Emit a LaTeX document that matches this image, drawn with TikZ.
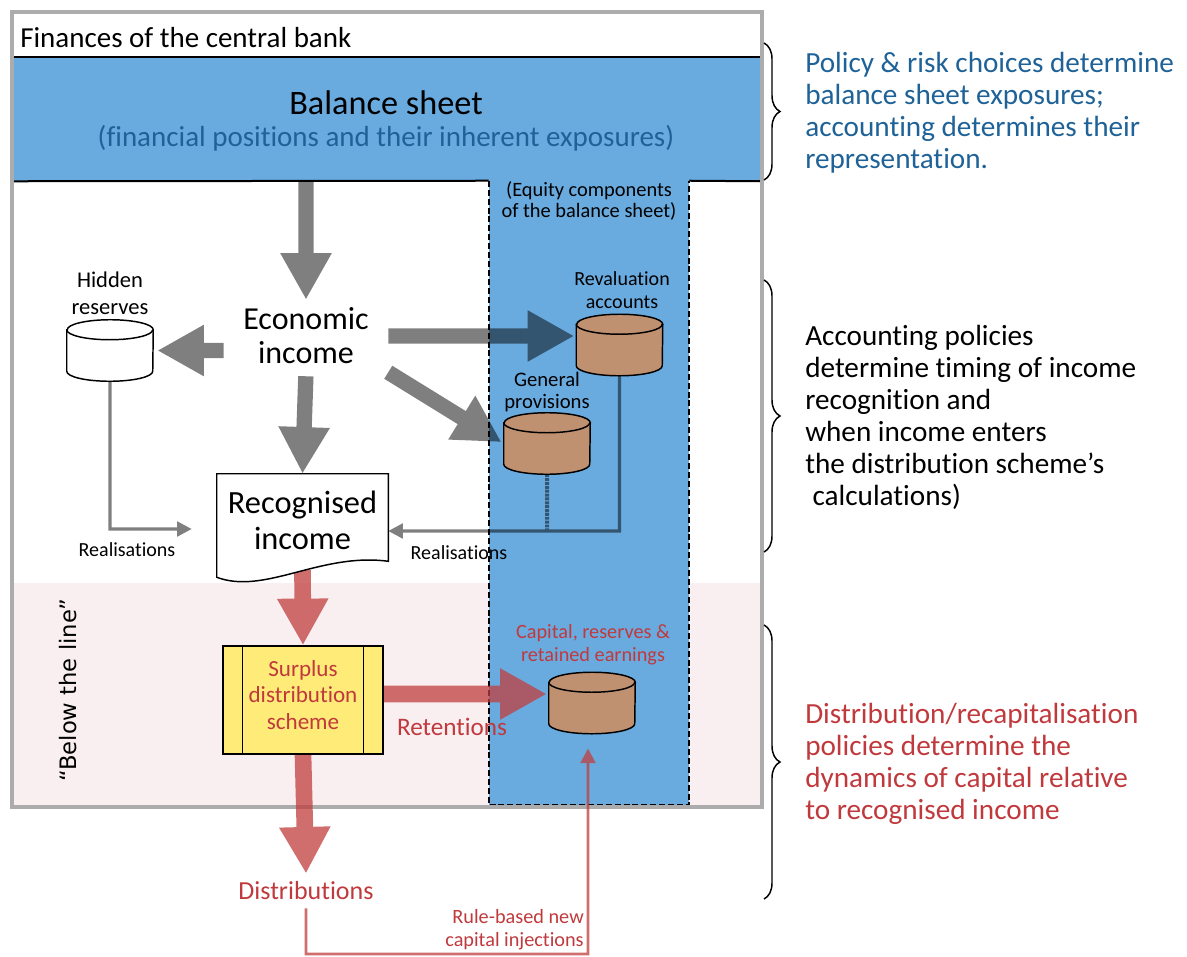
\documentclass[tikz,border=0pt]{standalone}
\usepackage{fontspec}
\setmainfont{Carlito}[Ligatures=NoCommon]
\newfontfamily\widefont{DejaVu Sans}
\usetikzlibrary{arrows.meta,calc,decorations.pathreplacing}

\definecolor{sheetblue}{RGB}{106,171,223}
\definecolor{sheettext}{RGB}{30,98,152}
\definecolor{schemered}{RGB}{192,57,60}
\definecolor{flowred}{RGB}{192,62,62}
\definecolor{barrel}{RGB}{191,145,112}
\definecolor{schemeyellow}{RGB}{255,235,120}
\definecolor{belowpink}{RGB}{249,239,241}
\definecolor{framegray}{RGB}{172,172,172}

\pgfdeclarelayer{back}
\pgfdeclarelayer{flow}
\pgfdeclarelayer{outline}
\pgfsetlayers{back,flow,outline,main}

% drum outline round a named node
\newcommand\drum[2]{%
  \draw[fill=#2,line width=1.1pt] ($(#1.north west)+(0,10)$) -- ($(#1.south west)+(0,-10)$)
    arc[start angle=180,end angle=360,x radius=32.25pt,y radius=7.5pt]
    -- ($(#1.north east)+(0,10)$)
    arc[start angle=0,end angle=180,x radius=32.25pt,y radius=7.5pt] -- cycle;
  \draw[line width=1.1pt] ($(#1.north west)+(0,10)$)
    arc[start angle=180,end angle=360,x radius=32.25pt,y radius=7.5pt];}

\begin{document}
\begin{tikzpicture}[x=0.75pt,y=-0.75pt,
  reserve/.style={minimum width=64.5pt,minimum height=45.75pt,inner sep=0pt},
  fatgray/.style={line width=11.5pt,draw=black,-{Triangle[length=35pt,width=36pt]}},
  fatred/.style={line width=12.5pt,draw=flowred,-{Triangle[length=35pt,width=36pt]}},
  thingray/.style={line width=2.4pt,draw=black,-{Triangle[length=11pt,width=11pt]}},
  thinred/.style={line width=2.2pt,draw=flowred,-{Triangle[length=11pt,width=11pt]}}]
  \useasboundingbox (0,0) rectangle (1187,956);

  \begin{pgfonlayer}{back}
    \fill[belowpink] (12,583) rectangle (762,807);
    \node (band)  at (387,119) [fill=sheetblue,minimum width=562.5pt,minimum height=93pt,inner sep=0pt] {};
    \node (eqcol) at (589,493) [fill=sheetblue,minimum width=150pt,minimum height=468pt,inner sep=0pt] {};
    \draw[dash pattern=on 4.5pt off 2.2pt,line width=1.2pt] (eqcol.north west) -- (eqcol.south west)
      -- (eqcol.south east) -- (eqcol.north east);
    \draw[line width=1.5pt] (band.north west) -- (band.north east);
    \draw[line width=1.5pt] (band.south west) -- (eqcol.north west);
    \draw[line width=1.5pt] (eqcol.north east) -- (band.south east);
    \draw[framegray,line width=3pt] (12,12) rectangle (762,807);
  \end{pgfonlayer}

  \node (title)    at (20,38)     [anchor=west,inner sep=0pt,font=\fontsize{21.75}{26}\selectfont] {Finances of the central bank};
  \node (sheet)    at (386,103)   [font=\fontsize{25.7}{30}\selectfont] {Balance sheet};
  \node (sheetsub) at (386,138)   [text=sheettext,font=\fontsize{21.75}{26}\selectfont] {(financial positions and their inherent exposures)};
  \node (eqlabel)  at (589,201)   [align=center,font=\fontsize{15.3}{16}\selectfont] {(Equity components\\of the balance sheet)};

  \node (hidlabel) at (110,293)   [align=center,font=\fontsize{16.9}{20}\selectfont] {Hidden\\reserves};
  \node (hid)      at (110,350.5) [reserve] {};
  \drum{hid}{white}
  \node (eco)      at (306,336)   [minimum width=123pt,minimum height=54pt,align=center,
                                   font=\fontsize{24}{25.5}\selectfont] {Economic\\income};
  \node (revlabel) at (622,290)   [align=center,font=\fontsize{15}{17}\selectfont] {Revaluation\\accounts};
  \node (rev)      at (619.5,345) [reserve] {};
  \drum{rev}{barrel}
  \node (gplabel)  at (547,392)   [align=center,font=\fontsize{15.5}{16}\selectfont] {General\\provisions};
  \node (gp)       at (547,443.5) [reserve] {};
  \drum{gp}{barrel}
  \node (doc)      at (302.5,520) [minimum width=128.25pt,minimum height=69pt,align=center,
                                   font=\fontsize{24.3}{27}\selectfont] {Recognised\\income};
  \node (realleft)  at (127,550)  [font=\fontsize{15}{18}\selectfont] {Realisations};
  \node (realright) at (459,553)  [font=\fontsize{15}{18}\selectfont] {Realisations};

  \node (below)    at (68,690)    [rotate=90,font=\widefont\fontsize{17}{20}\selectfont] {“Below the line”};
  \node (sds)      at (303,700)   [draw,line width=1.1pt,fill=schemeyellow,minimum width=120pt,minimum height=81pt] {};
  \draw[line width=1.1pt] ($(sds.north west)+(20,0)$) -- ($(sds.south west)+(20,0)$);
  \draw[line width=1.1pt] ($(sds.north east)+(-20,0)$) -- ($(sds.south east)+(-20,0)$);
  \node (sdslabel) at (303,695)   [align=center,text=schemered,font=\fontsize{17.3}{20}\selectfont] {Surplus\\distribution\\scheme};
  \node (caplabel) at (593,645)   [align=center,text=schemered,font=\fontsize{15.2}{17}\selectfont] {Capital, reserves \&\\retained earnings};
  \node (cap)      at (592,703)   [reserve] {};
  \drum{cap}{barrel}
  \node (ret)      at (452,727)   [text=schemered,font=\fontsize{18.9}{22}\selectfont] {Retentions};
  \node (dist)     at (306,891)   [inner sep=0pt,text=schemered,font=\fontsize{19.5}{22}\selectfont] {Distributions};
  \node (inj)      at (584,929.5) [anchor=east,align=right,inner sep=0pt,text=schemered,
                                   font=\fontsize{15.2}{17}\selectfont] {Rule-based new\\capital injections};
  \coordinate (injbase) at (588,954);
  \path ($(doc.east)+(0,11)$) coordinate (realjoin);

  \begin{pgfonlayer}{outline}
    \draw[fill=white,line width=1.1pt] (doc.north west) -- (doc.north east) -- ($(doc.south east)+(0,-5)$)
      .. controls ($(doc.south east)+(-68,-14)$) and ($(doc.south west)+(48,29)$) .. ($(doc.south west)+(0,11)$) -- cycle;
  \end{pgfonlayer}

  \begin{pgfonlayer}{flow}
    \begin{scope}[transparency group,opacity=0.5]
      \draw[fatgray] (band.south -| eco.north) -- (eco.north);
      \draw[fatgray,shorten <=3pt] (eco.south) -- (doc.north);
      \draw[fatgray,shorten >=3pt] (eco.west |- hid) -- (hid.east);
      \draw[fatgray,shorten >=1.5pt] (eco.east) -- (eco.east -| rev.west);
      \draw[fatgray,shorten >=2pt] (eco.south east) -- (gp.west);
      \draw[thingray] (hid.south) |- ($(doc.west)+(-25,9)$);
      \draw[thingray] (rev.south) |- (realjoin);
      \draw[line width=3pt,dash pattern=on 2.2pt off 0.7pt] (gp.south) -- (gp.south |- realjoin);
    \end{scope}
    \begin{scope}[transparency group,opacity=0.75]
      \draw[fatred] ($(doc.south)+(0,4)$) -- (sds.north);
      \draw[fatred] (sds.south) -- ($(dist.north)+(0,-8)$);
      \draw[fatred] ($(sds.east)+(0,-6)$) -- ($(cap.west)+(-2,-9)$);
      \draw[thinred,shorten >=11pt] ($(dist.south)+(0,8)$) -- (dist.south |- injbase) -- (injbase) -- (injbase |- cap.south);
    \end{scope}
  \end{pgfonlayer}

  %\draw[help lines] (0,0) grid[step=50] (1187,956);
  \draw[decorate,decoration={brace,amplitude=12pt},line width=1.1pt] (764,43) -- (764,180);
  \draw[decorate,decoration={brace,amplitude=12pt},line width=1.1pt] (764,280) -- (764,552);
  \draw[decorate,decoration={brace,amplitude=12pt},line width=1.1pt] (764,625) -- (764,899);
  \node (note1) at (805,113) [anchor=west,align=left,inner sep=0pt,text=sheettext,font=\fontsize{21.9}{24}\selectfont]
    {Policy \& risk choices determine\\balance sheet exposures;\\accounting determines their\\representation.};
  \node (note2) at (805,417) [anchor=west,align=left,inner sep=0pt,font=\fontsize{21.9}{24}\selectfont]
    {Accounting policies\\determine timing of income\\recognition and\\when income enters\\the distribution scheme’s\\\hspace*{0.25em}calculations)};
  \node (note3) at (805,764) [anchor=west,align=left,inner sep=0pt,text=schemered,font=\fontsize{21.9}{24}\selectfont]
    {Distribution/recapitalisation\\policies determine the\\dynamics of capital relative\\to recognised income};
\end{tikzpicture}
\end{document}
